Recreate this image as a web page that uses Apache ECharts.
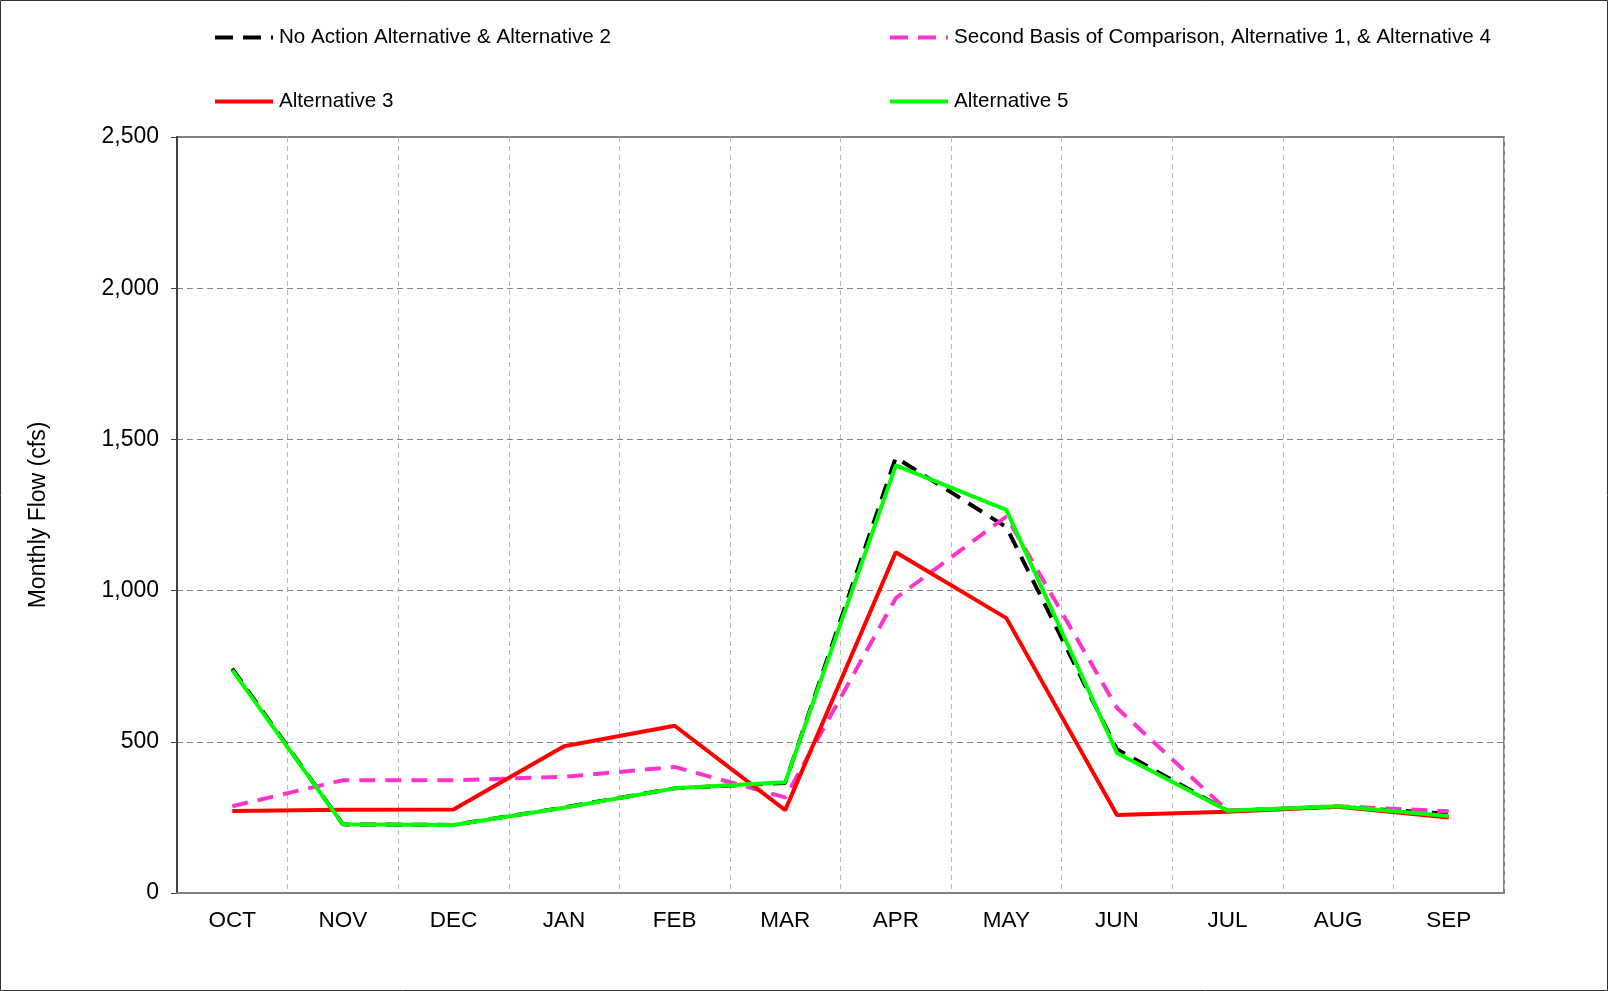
<!DOCTYPE html>
<html>
<head>
<meta charset="utf-8">
<script src="https://cdn.jsdelivr.net/npm/echarts@6/dist/echarts.min.js"></script>
<style>
html,body{margin:0;padding:0;background:#fff;}
#chart{width:1608px;height:991px;}
</style>
</head>
<body>
<div id="chart"></div>
<script>
const months = ['OCT','NOV','DEC','JAN','FEB','MAR','APR','MAY','JUN','JUL','AUG','SEP'];
const noActionAlt2 = [742, 227, 225, 283, 346, 364, 1440, 1210, 475, 272, 285, 262];
const secondBasisAlt1Alt4 = [287, 373, 373, 384, 417, 316, 975, 1245, 612, 272, 287, 270];
const alternative3 = [271, 275, 276, 485, 553, 274, 1127, 909, 258, 269, 285, 250];
const alternative5 = [737, 227, 225, 282, 346, 366, 1414, 1267, 463, 272, 287, 255];
const yTicks = [0, 500, 1000, 1500, 2000, 2500];

const names = [
  'No Action Alternative & Alternative 2',
  'Second Basis of Comparison, Alternative 1, & Alternative 4',
  'Alternative 3',
  'Alternative 5'
];

const chart = echarts.init(document.getElementById('chart'));
const font = 'Liberation Sans, Arial, sans-serif';
function legendAt(name, left, top, dashed) {
  return {
    data: [name], left: left, top: top, orient: 'horizontal',
    itemWidth: 58, itemHeight: 14, itemGap: 0, selectedMode: false,
    itemStyle: { opacity: 0, borderWidth: 0 },
    lineStyle: { width: 4, type: dashed ? [18, 10] : 'solid' },
    textStyle: { fontFamily: font, fontSize: 20.6, color: '#000', padding: [0,0,0,1] }
  };
}
chart.setOption({
  animation: false,
  backgroundColor: '#fff',
  graphic: [{
    type: 'rect', shape: { x: 0.5, y: 0.5, width: 1607, height: 990 },
    style: { fill: 'none', stroke: '#333', lineWidth: 1 }, silent: true
  }],
  legend: [
    legendAt(names[0], 208, 22, true),
    legendAt(names[1], 883, 22, true),
    legendAt(names[2], 208, 86, false),
    legendAt(names[3], 883, 86, false)
  ],
  grid: { left: 177, right: 104, top: 137, bottom: 98, show: true, borderColor: '#808080', borderWidth: 2, backgroundColor: 'transparent' },
  xAxis: {
    type: 'category', data: months, boundaryGap: true,
    axisLine: { show: true, lineStyle: { color: '#808080', width: 2 } },
    axisTick: { show: false },
    axisLabel: { fontFamily: font, fontSize: 22.5, color: '#000', margin: 16 },
    splitLine: { show: true, lineStyle: { color: '#b8b8b8', type: [5, 4], width: 1 } }
  },
  yAxis: {
    type: 'value', min: yTicks[0], max: yTicks[yTicks.length - 1], interval: 500,
    name: 'Monthly Flow (cfs)', nameLocation: 'middle', nameGap: 127, nameRotate: 90,
    nameTextStyle: { fontFamily: font, fontSize: 23, color: '#000' },
    axisLine: { show: true, lineStyle: { color: '#404040', width: 2 } },
    axisTick: { show: true, length: 6, lineStyle: { color: '#404040' } },
    axisLabel: {
      fontFamily: font, fontSize: 23, color: '#000', margin: 18,
      formatter: v => v.toLocaleString('en-US')
    },
    splitLine: { show: true, lineStyle: { color: '#808080', type: [6, 4], width: 1.2 } }
  },
  series: [
    { name: names[0], type: 'line', data: noActionAlt2, symbol: 'none', z: 2,
      lineStyle: { color: '#000', width: 4, type: [16, 10] }, itemStyle: { color: '#000' } },
    { name: names[1], type: 'line', data: secondBasisAlt1Alt4, symbol: 'none', z: 3,
      lineStyle: { color: '#FF33CC', width: 4, type: [16, 10] }, itemStyle: { color: '#FF33CC' } },
    { name: names[2], type: 'line', data: alternative3, symbol: 'none', z: 4,
      lineStyle: { color: '#FF0000', width: 4 }, itemStyle: { color: '#FF0000' } },
    { name: names[3], type: 'line', data: alternative5, symbol: 'none', z: 5,
      lineStyle: { color: '#00FF00', width: 4 }, itemStyle: { color: '#00FF00' } }
  ]
});
</script>
</body>
</html>
